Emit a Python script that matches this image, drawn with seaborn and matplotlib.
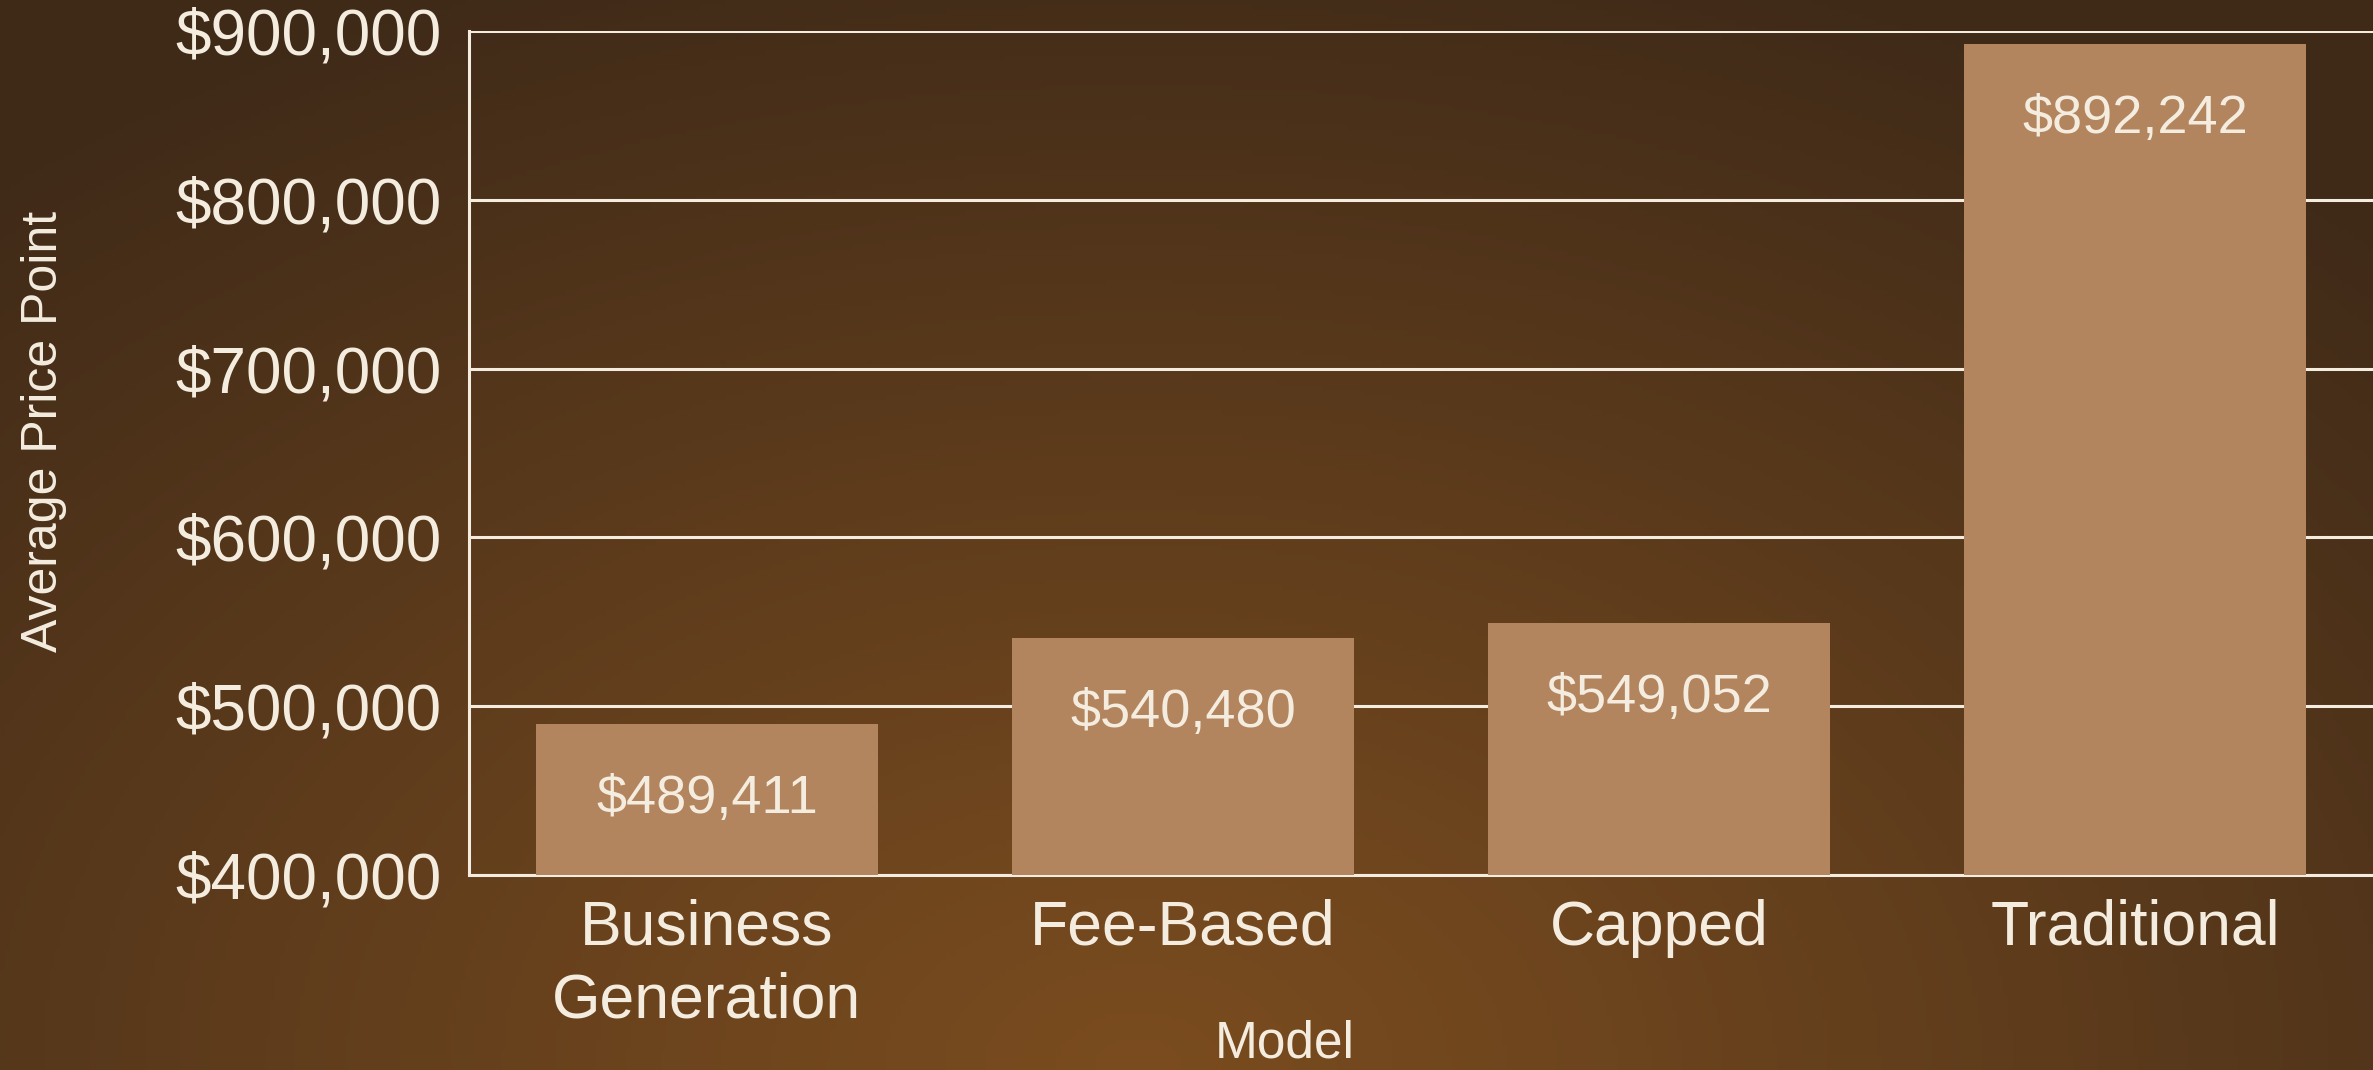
import numpy as np
import pandas as pd
import matplotlib
matplotlib.use("Agg")
import matplotlib.pyplot as plt
import seaborn as sns
from matplotlib.colors import to_rgb

# data
modelos = ['Business\nGeneration', 'Fee-Based', 'Capped', 'Traditional']
precos = [489411, 540480, 549052, 892242]
rotulos = ['$489,411', '$540,480', '$549,052', '$892,242']
ticks_y = [400000, 500000, 600000, 700000, 800000, 900000]

COR_BARRA = '#b3855f'
COR_TEXTO = '#f4eddf'
ESCURO = '#3f2a18'
CLARO = '#7a4c1f'

sns.set_style('white', {'axes.facecolor': 'none'})
plt.rcParams['font.family'] = ['Liberation Sans', 'DejaVu Sans']

df = pd.DataFrame({'Model': modelos, 'Average Price Point': precos})

fig = plt.figure(figsize=(23.73, 10.70), dpi=100)

# fundo com gradiente radial (mais claro embaixo no centro)
bg = fig.add_axes([0, 0, 1, 1], zorder=-10)
h, w = 214, 474
yy, xx = np.mgrid[0:1:h * 1j, 0:1:w * 1j]
d = np.sqrt(((xx - 0.48) / 0.75) ** 2 + ((yy - 1.0) / 1.1) ** 2)
d = np.clip(d, 0, 1) ** 1.1
c0, c1 = np.array(to_rgb(CLARO)), np.array(to_rgb(ESCURO))
img = c0[None, None, :] * (1 - d[..., None]) + c1[None, None, :] * d[..., None]
bg.imshow(img, aspect='auto', extent=[0, 1, 0, 1], origin='upper')
bg.axis('off')

ax = fig.add_axes([0.1976, 0.1822, 0.8024, 0.789])
sns.barplot(data=df, x='Model', y='Average Price Point', color=COR_BARRA,
            width=0.72, saturation=1, linewidth=0, ax=ax, zorder=3)

for i, (v, t) in enumerate(zip(precos, rotulos)):
    ax.annotate(t, (i, v), xytext=(0, -54), textcoords='offset points',
                ha='center', va='center', fontsize=39, color=COR_TEXTO, zorder=4)

ax.set_ylim(400000, 900000)
ax.set_xlim(-0.5, 3.5)
ax.set_yticks(ticks_y)
ax.set_yticklabels([f'${t:,}' for t in ticks_y])
ax.yaxis.grid(True, color=COR_TEXTO, linewidth=2.2)
ax.set_axisbelow(True)

ax.tick_params(axis='y', length=0, pad=20, labelsize=46, labelcolor=COR_TEXTO)
ax.tick_params(axis='x', length=0, pad=17, labelsize=45, labelcolor=COR_TEXTO)
for lbl in ax.get_xticklabels():
    lbl.set_linespacing(1.3)

for lado in ['top', 'right']:
    ax.spines[lado].set_visible(False)
for lado in ['left', 'bottom']:
    ax.spines[lado].set_color(COR_TEXTO)
    ax.spines[lado].set_linewidth(2.2)

ax.set_xlabel('Model', fontsize=37, color=COR_TEXTO)
ax.set_ylabel('Average Price Point', fontsize=36, color=COR_TEXTO)
ax.xaxis.set_label_coords(0.4286, -0.200)
ax.xaxis.label.set_va('center')
ax.yaxis.set_label_coords(-0.223, 0.526)
ax.yaxis.label.set_va('center')

fig.savefig('out.png', dpi=100)
